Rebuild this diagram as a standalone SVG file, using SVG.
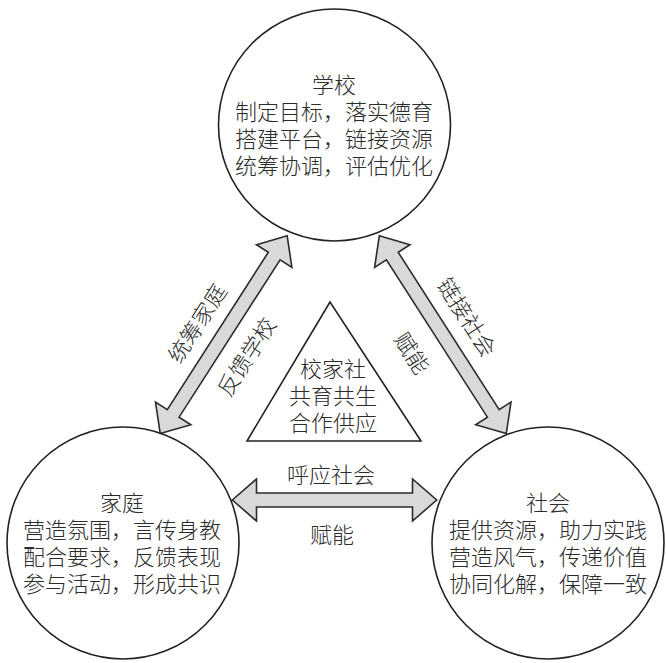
<svg xmlns="http://www.w3.org/2000/svg" width="666" height="663" viewBox="0 0 666 663">
<style>
.c{fill:#fff;stroke:#222;stroke-width:1.6}
.t{font-family:"Noto Sans CJK SC","Noto Sans",sans-serif;font-size:22px;font-weight:300;fill:#2b2b2b;text-anchor:middle}
.a{fill:#d9d9d9;stroke:#2b2b2b;stroke-width:1.6;stroke-linejoin:miter}
.tri{fill:#fff;stroke:#222;stroke-width:1.6}
</style>
<defs>
<path id="dbl235" d="M-117.5,0 L-93.5,-21 L-93.5,-7 L93.5,-7 L93.5,-21 L117.5,0 L93.5,21 L93.5,7 L-93.5,7 L-93.5,21 Z"/>
</defs>
<rect width="666" height="663" fill="#fff"/>
<g id="connectors">
<use href="#dbl235" class="a" transform="translate(223.7,334.7) rotate(-57.3)"/>
<use href="#dbl235" class="a" transform="translate(442.8,334.7) rotate(57.3)"/>
<path class="a" d="M232.3,500 L256.5,479 L256.5,493 L412.5,493 L412.5,479 L436.7,500 L412.5,521 L412.5,507 L256.5,507 L256.5,521 Z"/>
<text class="t" transform="translate(197.3,323.3) rotate(-57.3)" x="0" y="8">统筹家庭</text>
<text class="t" transform="translate(246.7,357) rotate(-57.3)" x="0" y="8">反馈学校</text>
<text class="t" transform="translate(466.7,317.3) rotate(57.3)" x="0" y="8">链接社会</text>
<text class="t" transform="translate(411.7,353.3) rotate(57.3)" x="0" y="8">赋能</text>
<text class="t" x="331" y="483">呼应社会</text>
<text class="t" x="332" y="543">赋能</text>
</g>
<g id="center">
<polygon class="tri" points="330,302 247,441 421,441"/>
<text class="t" x="333" y="377">校家社<tspan x="333" dy="27">共育共生</tspan><tspan x="333" dy="27">合作供应</tspan></text>
</g>
<g id="school">
<circle class="c" cx="334.5" cy="125" r="116"/>
<text class="t" x="334" y="93">学校<tspan x="334" dy="27">制定目标，落实德育</tspan><tspan x="334" dy="27">搭建平台，链接资源</tspan><tspan x="334" dy="27">统筹协调，评估优化</tspan></text>
</g>
<g id="family">
<circle class="c" cx="123" cy="543" r="116"/>
<text class="t" x="122" y="511">家庭<tspan x="122" dy="27">营造氛围，言传身教</tspan><tspan x="122" dy="27">配合要求，反馈表现</tspan><tspan x="122" dy="27">参与活动，形成共识</tspan></text>
</g>
<g id="society">
<circle class="c" cx="548" cy="543" r="116"/>
<text class="t" x="548" y="511">社会<tspan x="548" dy="27">提供资源，助力实践</tspan><tspan x="548" dy="27">营造风气，传递价值</tspan><tspan x="548" dy="27">协同化解，保障一致</tspan></text>
</g>
</svg>
